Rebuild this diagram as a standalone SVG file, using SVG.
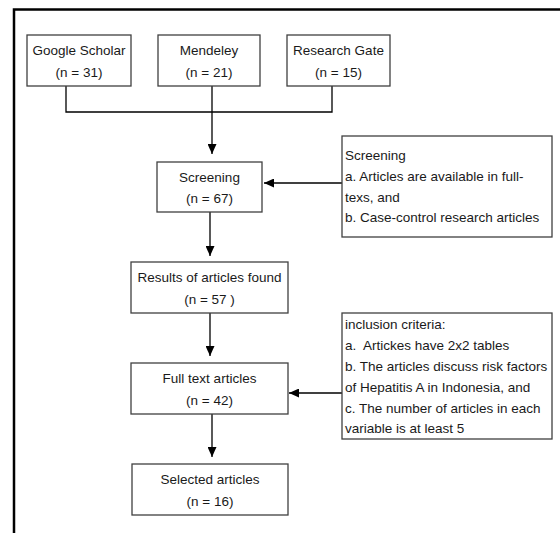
<svg xmlns="http://www.w3.org/2000/svg" width="560" height="533" viewBox="0 0 560 533">
<style>
  .box { fill: #ffffff; stroke: #404040; stroke-width: 1.3; }
  .t { font-family: "Liberation Sans", Arial, sans-serif; font-size: 13.5px; fill: #1a1a1a; }
  .c { text-anchor: middle; }
  .ln { fill: none; stroke: #000000; stroke-width: 1.3; }
  .arr { marker-end: url(#ah); }
</style>
<defs>
  <marker id="ah" markerWidth="10" markerHeight="9" refX="10" refY="4.5" orient="auto" markerUnits="userSpaceOnUse">
    <path d="M0,0 L10,4.5 L0,9 Z" fill="#000000"/>
  </marker>
</defs>
<rect width="560" height="533" fill="#ffffff"/>
<path d="M14,533 V9.5 H560" fill="none" stroke="#000000" stroke-width="2.5"/>

<g id="connectors">
  <path class="ln" d="M66,86 V112 H332 V86"/>
  <path class="ln arr" d="M212,86 V154"/>
  <path class="ln arr" d="M210,212 V256"/>
  <path class="ln arr" d="M210,313 V356"/>
  <path class="ln arr" d="M212,414 V457"/>
  <path class="ln arr" d="M342,183 H264"/>
  <path class="ln arr" d="M342,393 H289"/>
</g>

<g id="google-scholar">
  <rect class="box" x="27" y="35" width="104" height="51"/>
  <text class="t c" x="79" y="55">Google Scholar</text>
  <text class="t c" x="79" y="77">(n = 31)</text>
</g>
<g id="mendeley">
  <rect class="box" x="158" y="35" width="102" height="51"/>
  <text class="t c" x="209" y="55">Mendeley</text>
  <text class="t c" x="209" y="77">(n = 21)</text>
</g>
<g id="research-gate">
  <rect class="box" x="287" y="35" width="103" height="51"/>
  <text class="t c" x="338.5" y="55">Research Gate</text>
  <text class="t c" x="338.5" y="77">(n = 15)</text>
</g>
<g id="screening">
  <rect class="box" x="157" y="162" width="105" height="50"/>
  <text class="t c" x="209.5" y="182">Screening</text>
  <text class="t c" x="209.5" y="203">(n = 67)</text>
</g>
<g id="screening-criteria">
  <rect class="box" x="342" y="136" width="210" height="101"/>
  <text class="t" x="345" y="160">Screening</text>
  <text class="t" x="345" y="181">a. Articles are available in full-</text>
  <text class="t" x="345" y="201.5">texs, and</text>
  <text class="t" x="345" y="222">b. Case-control research articles</text>
</g>
<g id="results">
  <rect class="box" x="131" y="262" width="157" height="51"/>
  <text class="t c" x="209.5" y="282">Results of articles found</text>
  <text class="t c" x="209.5" y="304">(n = 57 )</text>
</g>
<g id="full-text">
  <rect class="box" x="131" y="363" width="157" height="51"/>
  <text class="t c" x="209.5" y="383">Full text articles</text>
  <text class="t c" x="209.5" y="405">(n = 42)</text>
</g>
<g id="inclusion-criteria">
  <rect class="box" x="342" y="313" width="210" height="126"/>
  <text class="t" x="345" y="329">inclusion criteria:</text>
  <text class="t" x="345" y="350" xml:space="preserve">a.  Artickes have 2x2 tables</text>
  <text class="t" x="345" y="371">b. The articles discuss risk factors</text>
  <text class="t" x="345" y="392">of Hepatitis A in Indonesia, and</text>
  <text class="t" x="345" y="413">c. The number of articles in each</text>
  <text class="t" x="345" y="433">variable is at least 5</text>
</g>
<g id="selected">
  <rect class="box" x="132" y="464" width="156" height="51"/>
  <text class="t c" x="210" y="484">Selected articles</text>
  <text class="t c" x="210" y="506">(n = 16)</text>
</g>
</svg>
